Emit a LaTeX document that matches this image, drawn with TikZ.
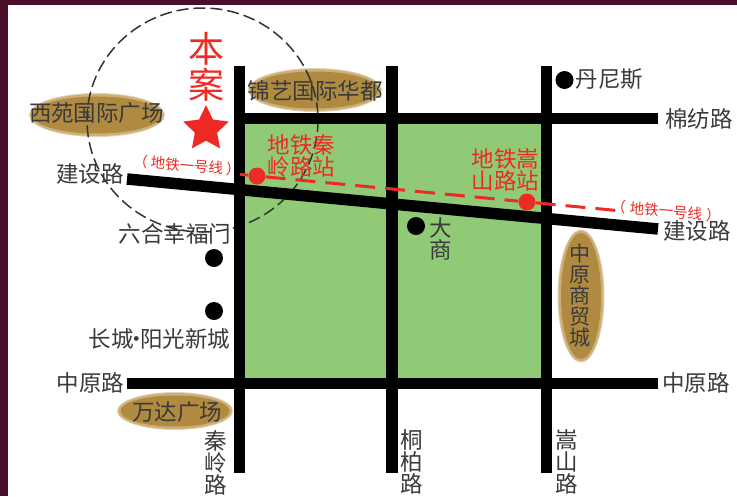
\documentclass[tikz,border=0pt]{standalone}
\usepackage{fontspec}
\setmainfont{Noto Sans CJK SC}
\usetikzlibrary{shapes.geometric}
\definecolor{frame}{HTML}{4A0D2A}
\definecolor{parkgreen}{HTML}{90CA77}
\definecolor{tanA}{HTML}{E3D3B4}
\definecolor{tanB}{HTML}{CDB079}
\definecolor{tanC}{HTML}{B08A40}
\definecolor{subway}{HTML}{EE2A24}
\definecolor{labelgrey}{HTML}{3A3A3A}
\tikzset{
  road/.style={line width=11.5pt,black},
  lab/.style={inner sep=0pt,align=center,text=labelgrey,font=\fontsize{22.5}{22}\selectfont},
  redlab/.style={inner sep=0pt,align=center,text=subway,font=\fontsize{22.5}{20}\selectfont},
  linelab/.style={inner sep=0pt,text=subway,font=\fontsize{14.5}{15}\selectfont,rotate=-5},
  dotmark/.style={circle,fill=black,inner sep=0pt,minimum size=18pt},
  station/.style={circle,fill=subway,inner sep=0pt,minimum size=17pt},
  subwayline/.style={line width=3pt,subway,dash pattern=on 20pt off 10pt},
  ringline/.style={line width=1.5pt,draw=black!80,dash pattern=on 12pt off 5pt},
}
\newcommand{\blob}[5]{% name,x,y,rx,ry
  \fill[tanA] (#2,#3) ellipse [x radius=#4,y radius=#5];
  \fill[tanB] (#2,#3) ellipse [x radius=#4-1,y radius=#5-1];
  \fill[tanC] (#2,#3) ellipse [x radius=#4-3.5,y radius=#5-3.5];
}
\begin{document}
\begin{tikzpicture}[x=1pt,y=-1pt]
\useasboundingbox (0,0) rectangle (737,496);
\fill[white] (0,0) rectangle (737,496);
\fill[frame] (0,0) rectangle (737,4.5);
\fill[frame] (0,0) rectangle (7.5,496);
% green block
\fill[parkgreen] (245,124) rectangle (541,378);
% brown blobs
\blob{a}{97}{115}{68}{22}
\blob{b}{315}{90}{67}{22}
\blob{c}{581}{296}{23.5}{66.5}
\blob{d}{175}{411}{58}{19}
% ring
\draw[ringline] (202.5,120) ellipse [x radius=115.5,y radius=112];
% roads
\draw[road] (239.5,66) -- (239.5,473);
\draw[road] (392,66) -- (392,473);
\draw[road] (546.5,66) -- (546.5,473);
\draw[road] (239.5,118.5) -- (658,118.5);
\draw[road] (127,383.5) -- (658,383.5);
\draw[road] (127,179) -- (658,229);
% subway
\node[station] (qinling) at (257,176) {};
\node[station] (songshan) at (527,202) {};
\coordinate (subwayA) at (240,174.4);
\coordinate (subwayB) at (618,210.6);
\draw[subwayline] (subwayA) -- (qinling) -- (songshan) -- (subwayB);
% star
\node[star,star points=5,star point ratio=2.05,fill=subway,inner sep=0pt,minimum size=48pt] (starmark) at (206,129) {};
\node[inner sep=0pt,align=center,text=subway,font=\fontsize{36}{36}\selectfont] (benan) at (206,66.5) {本\\案};
% dots
\node[dotmark] (d1) at (564.5,80) {};
\node[dotmark] (d2) at (416,226) {};
\node[dotmark] (d3) at (214,258) {};
\node[dotmark] (d4) at (214,311) {};
% labels
\node[lab] (xiyuan) at (96.5,113) {西苑国际广场};
\node[lab] (jinyi) at (315,91) {锦艺国际华都};
\node[lab] (jiansheL) at (90,174) {建设路};
\node[lab] (liuhe) at (175,234) {六合幸福门};
\node[lab] (danni) at (609.5,79) {丹尼斯};
\node[lab] (mianfang) at (699,119) {棉纺路};
\node[lab] (jiansheR) at (697,231) {建设路};
\node[lab] (dashang) at (441,239) {大\\商};
\node[lab] (changcheng) at (159.5,339) {长城\kern-8pt·\kern-8pt阳光新城};
\node[lab] (zhongL) at (90.5,383) {中原路};
\node[lab] (zhongR) at (696,383) {中原路};
\node[lab] (wanda) at (177,412) {万达广场};
\node[lab] (qinlu) at (216,463) {秦\\岭\\路};
\node[lab] (tonglu) at (411.5,462) {桐\\柏\\路};
\node[lab] (songlu) at (567,462) {嵩\\山\\路};
\node[lab,font=\fontsize{21}{21}\selectfont] (shangmao) at (580,296) {中\\原\\商\\贸\\城};
\node[redlab] (qinst) at (301.5,156) {地铁秦\\岭路站};
\node[redlab] (songst) at (505.5,170) {地铁嵩\\山路站};
\node[linelab] (lineL) at (187,165.5) {（\kern3pt 地铁一号线\kern3pt ）};
\node[linelab] (lineR) at (666,211) {（\kern4pt 地铁一号线\kern4pt ）};
\end{tikzpicture}
\end{document}
